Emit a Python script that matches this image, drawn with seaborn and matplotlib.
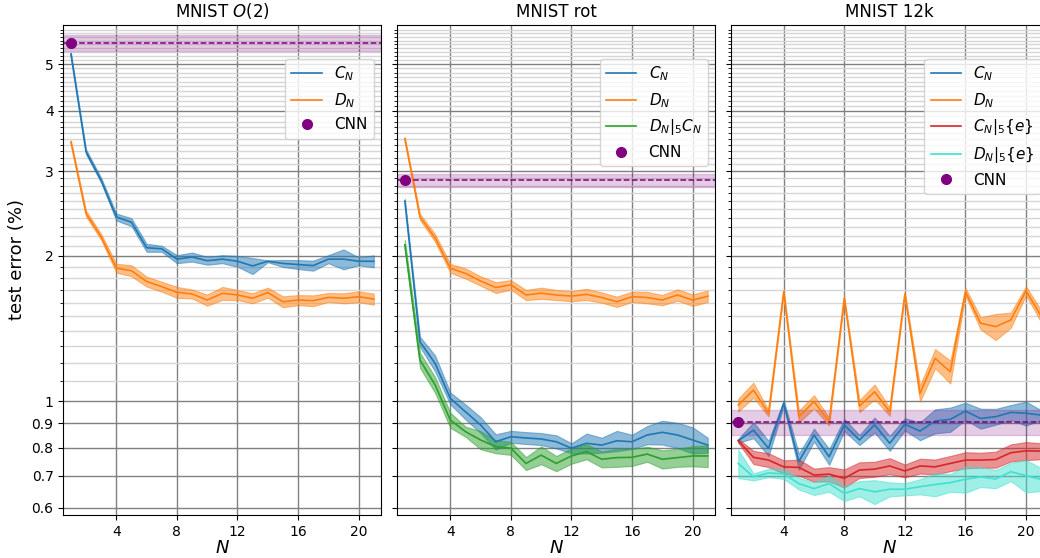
import matplotlib
matplotlib.use('Agg')
import matplotlib.pyplot as plt
import matplotlib.ticker as mticker
import seaborn as sns
import pandas as pd
import numpy as np

# ── Data ────────────────────────────────────────────────────
N = list(range(1, 22))

# MNIST O(2)
o2_cn = [5.25, 3.29, 2.87, 2.41, 2.35, 2.08, 2.07, 1.97, 1.99, 1.955, 1.97,
         1.95, 1.907, 1.95, 1.93, 1.92, 1.91, 1.97, 1.97, 1.95, 1.95]
o2_cn_sd = [0.038, 0.039, 0.034, 0.040, 0.045, 0.040, 0.030, 0.038, 0.043, 0.037, 0.038,
            0.051, 0.073, 0.009, 0.032, 0.041, 0.046, 0.038, 0.094, 0.037, 0.056]
o2_dn = [3.45, 2.45, 2.19, 1.887, 1.864, 1.77, 1.727, 1.681, 1.668, 1.62, 1.673,
         1.66, 1.634, 1.679, 1.607, 1.62, 1.615, 1.641, 1.634, 1.646, 1.628]
o2_dn_sd = [0.025, 0.035, 0.031, 0.040, 0.049, 0.042, 0.041, 0.044, 0.036, 0.043, 0.052,
            0.040, 0.039, 0.040, 0.042, 0.039, 0.042, 0.035, 0.039, 0.043, 0.043]
o2_cnn, o2_cnn_sd = 5.54, 0.22

# MNIST rot
rot_cn = [2.6, 1.327, 1.197, 1.013, 0.95, 0.892, 0.823, 0.843, 0.838, 0.834, 0.823,
          0.798, 0.817, 0.81, 0.827, 0.823, 0.85, 0.861, 0.85, 0.83, 0.81]
rot_cn_sd = [0.025, 0.032, 0.046, 0.029, 0.034, 0.034, 0.030, 0.024, 0.024, 0.024, 0.026,
             0.019, 0.039, 0.029, 0.040, 0.028, 0.037, 0.049, 0.051, 0.052, 0.029]
rot_dn = [3.5, 2.41, 2.18, 1.886, 1.84, 1.775, 1.72, 1.742, 1.66, 1.674, 1.66,
          1.651, 1.665, 1.64, 1.607, 1.646, 1.64, 1.62, 1.66, 1.62, 1.65]
rot_dn_sd = [0.030, 0.035, 0.040, 0.040, 0.045, 0.040, 0.045, 0.040, 0.040, 0.045, 0.040,
             0.040, 0.045, 0.040, 0.040, 0.040, 0.045, 0.040, 0.045, 0.045, 0.045]
rot_dc = [2.11, 1.216, 1.08, 0.913, 0.864, 0.83, 0.804, 0.798, 0.742, 0.772, 0.742,
          0.769, 0.785, 0.757, 0.763, 0.764, 0.776, 0.757, 0.763, 0.769, 0.769]
rot_dc_sd = [0.050, 0.044, 0.041, 0.033, 0.021, 0.036, 0.025, 0.025, 0.023, 0.033, 0.027,
             0.028, 0.028, 0.029, 0.033, 0.031, 0.028, 0.033, 0.033, 0.037, 0.040]
rot_cnn, rot_cnn_sd = 2.87, 0.09

# MNIST 12k
k12_cn = [0.827, 0.87, 0.798, 0.989, 0.749, 0.85, 0.766, 0.892, 0.83, 0.892, 0.817,
          0.895, 0.866, 0.909, 0.916, 0.953, 0.92, 0.928, 0.947, 0.943, 0.935]
k12_cn_sd = [0.008, 0.033, 0.029, 0.014, 0.029, 0.026, 0.029, 0.026, 0.020, 0.032, 0.029,
             0.026, 0.037, 0.052, 0.053, 0.039, 0.044, 0.035, 0.034, 0.054, 0.022]
k12_dn = [0.981, 1.054, 0.943, 1.686, 0.928, 0.997, 0.906, 1.634, 0.976, 1.045, 0.95,
          1.668, 1.037, 1.226, 1.15, 1.686, 1.45, 1.427, 1.473, 1.694, 1.50]
k12_dn_sd = [0.030, 0.038, 0.014, 0.016, 0.027, 0.031, 0.017, 0.016, 0.028, 0.037, 0.018,
             0.016, 0.040, 0.056, 0.063, 0.032, 0.042, 0.089, 0.053, 0.036, 0.043]
k12_ce = [0.827, 0.764, 0.754, 0.73, 0.728, 0.702, 0.705, 0.691, 0.719, 0.722, 0.733,
          0.716, 0.733, 0.73, 0.742, 0.754, 0.754, 0.756, 0.781, 0.788, 0.787]
k12_ce_sd = [0.008, 0.024, 0.025, 0.023, 0.028, 0.022, 0.024, 0.030, 0.027, 0.026, 0.028,
             0.022, 0.026, 0.026, 0.027, 0.029, 0.027, 0.029, 0.032, 0.034, 0.030]
k12_de = [0.742, 0.696, 0.709, 0.706, 0.674, 0.658, 0.674, 0.643, 0.658, 0.648, 0.656,
          0.656, 0.664, 0.671, 0.677, 0.688, 0.696, 0.689, 0.713, 0.70, 0.688]
k12_de_sd = [0.050, 0.012, 0.014, 0.017, 0.019, 0.020, 0.026, 0.023, 0.024, 0.037, 0.022,
             0.019, 0.024, 0.037, 0.029, 0.043, 0.033, 0.030, 0.031, 0.054, 0.038]
k12_cnn, k12_cnn_sd = 0.905, 0.055

Y_MAJOR = [0.6, 0.7, 0.8, 0.9, 1, 2, 3, 4, 5]
Y_LABELS = ['0.6', '0.7', '0.8', '0.9', '1', '2', '3', '4', '5']
X_TICKS = [4, 8, 12, 16, 20]

BLUE, ORANGE, GREEN, RED, CYAN = '#1f77b4', '#ff7f0e', '#2ca02c', '#d62728', 'turquoise'
CNN_COLOR = 'purple'

# ── Figure ──────────────────────────────────────────────────
fig = plt.figure(figsize=(10.4, 5.58), dpi=100)
w, h, b = 0.3058, 0.878, 0.0771
ax1 = fig.add_axes([0.0609, b, w, h])
ax2 = fig.add_axes([0.3820, b, w, h], sharey=ax1)
ax3 = fig.add_axes([0.7026, b, w, h], sharey=ax1)


def band(ax, mean, sd, color, label):
    df = pd.DataFrame({'N': N, 'err': mean, 'sd': sd})
    sns.lineplot(data=df, x='N', y='err', color=color, lw=1.2, label=label, ax=ax)
    ax.fill_between(df['N'], df['err'] - df['sd'], df['err'] + df['sd'],
                    facecolor=color, edgecolor=color, lw=0.8, alpha=0.5)


def cnn(ax, val, sd):
    ax.axhline(val, color=CNN_COLOR, ls='--', lw=1.1)
    ax.axhspan(val - sd, val + sd, facecolor=CNN_COLOR, edgecolor=CNN_COLOR,
               lw=1, alpha=0.2)
    ax.plot([N[0]], [val], 'o', color=CNN_COLOR, ms=7, label='CNN')


band(ax1, o2_cn, o2_cn_sd, BLUE, r'$C_N$')
band(ax1, o2_dn, o2_dn_sd, ORANGE, r'$D_N$')
cnn(ax1, o2_cnn, o2_cnn_sd)
ax1.set_title(r'MNIST $O(2)$', fontsize=12)

band(ax2, rot_cn, rot_cn_sd, BLUE, r'$C_N$')
band(ax2, rot_dn, rot_dn_sd, ORANGE, r'$D_N$')
band(ax2, rot_dc, rot_dc_sd, GREEN, r'$D_N|_5C_N$')
cnn(ax2, rot_cnn, rot_cnn_sd)
ax2.set_title('MNIST rot', fontsize=12)

band(ax3, k12_cn, k12_cn_sd, BLUE, r'$C_N$')
band(ax3, k12_dn, k12_dn_sd, ORANGE, r'$D_N$')
band(ax3, k12_ce, k12_ce_sd, RED, r'$C_N|_5\{e\}$')
band(ax3, k12_de, k12_de_sd, CYAN, r'$D_N|_5\{e\}$')
cnn(ax3, k12_cnn, k12_cnn_sd)
ax3.set_title('MNIST 12k', fontsize=12)

minor = [round(v, 1) for v in np.arange(1.1, 6.05, 0.1) if abs(v - round(v)) > 1e-6]

for ax in (ax1, ax2, ax3):
    ax.set_yscale('log')
    ax.set_ylim(0.58, 6.03)
    ax.set_xlim(0.5, 21.5)
    ax.set_xticks(X_TICKS)
    ax.yaxis.set_major_locator(mticker.FixedLocator(Y_MAJOR))
    ax.yaxis.set_major_formatter(mticker.FixedFormatter(Y_LABELS))
    ax.yaxis.set_minor_locator(mticker.FixedLocator(minor))
    ax.yaxis.set_minor_formatter(mticker.NullFormatter())
    ax.set_axisbelow(True)
    ax.grid(True, which='minor', axis='y', color='#d6d6d6', lw=1)
    ax.grid(True, which='major', color='#808080', lw=1)
    ax.set_xlabel(r'$N$', fontsize=13, labelpad=0)
    ax.set_ylabel('')
    ax.legend(loc='upper right', bbox_to_anchor=(1, 0.947), fontsize=11)

ax1.set_ylabel('test error (%)', fontsize=13)
ax1.yaxis.set_label_coords(-0.117, 0.522)
ax2.tick_params(labelleft=False)
ax3.tick_params(labelleft=False)

plt.savefig('out.png', dpi=100)
